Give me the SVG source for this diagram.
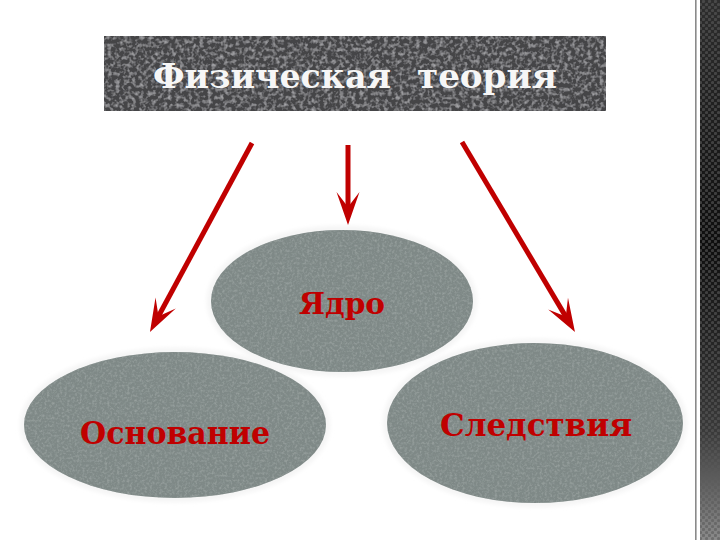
<svg xmlns="http://www.w3.org/2000/svg" width="720" height="540" viewBox="0 0 720 540">
<style>
.node-fill{fill:#7f8987;}
.glow{fill:#ffffff;stroke:#f4f4f4;stroke-width:6;}
.lbl{font-family:"DejaVu Serif Condensed","DejaVu Serif",serif;font-weight:bold;fill:#c00000;text-anchor:middle;}
.title{font-family:"DejaVu Serif Condensed","DejaVu Serif",serif;font-weight:bold;fill:#f6f6f6;text-anchor:start;font-size:34px;}
.conn{stroke:#c00000;stroke-width:5;fill:none;marker-end:url(#ah);}
</style>
<defs>
<marker id="ah" markerUnits="userSpaceOnUse" markerWidth="40" markerHeight="30" viewBox="-20 -15 40 30" refX="0" refY="0" orient="auto">
<path d="M15,0 L-18,-11.5 L-3,0 L-18,11.5 Z" fill="#c00000"/>
</marker>
<filter id="tex" x="0" y="0" width="100%" height="100%">
<feTurbulence type="fractalNoise" baseFrequency="0.4" numOctaves="3" seed="4" result="n"/>
<feColorMatrix in="n" type="matrix" values="0 0 0 0 0.32  0 0 0 0 0.36  0 0 0 0 0.35  0 0 0 -2.0 1.15" result="d"/>
<feComposite in="d" in2="SourceGraphic" operator="in" result="dc"/>
<feMerge><feMergeNode in="SourceGraphic"/><feMergeNode in="dc"/></feMerge>
</filter>
<filter id="tex2" x="0" y="0" width="100%" height="100%">
<feTurbulence type="fractalNoise" baseFrequency="0.25" numOctaves="3" seed="7" result="n"/>
<feColorMatrix in="n" type="matrix" values="0 0 0 0 0.45  0 0 0 0 0.45  0 0 0 0 0.47  0 0 0 -1.8 1.0" result="d"/>
<feComposite in="d" in2="SourceGraphic" operator="in" result="dc"/>
<feMerge><feMergeNode in="SourceGraphic"/><feMergeNode in="dc"/></feMerge>
</filter>
<filter id="blur" x="-10%" y="-10%" width="120%" height="120%">
<feGaussianBlur stdDeviation="2"/>
</filter>
<linearGradient id="strip" x1="0" y1="0" x2="0" y2="1">
<stop offset="0" stop-color="#2e2e2e"/>
<stop offset="0.45" stop-color="#0e0e0e"/>
<stop offset="0.8" stop-color="#3a3a3a"/>
<stop offset="1" stop-color="#8a8a8a"/>
</linearGradient>
<pattern id="dots" width="6" height="6" patternUnits="userSpaceOnUse">
<circle cx="1.5" cy="1.5" r="1.6" fill="#5a5a5a" fill-opacity="0.6"/>
<circle cx="4.5" cy="4.5" r="1.6" fill="#5a5a5a" fill-opacity="0.6"/>
</pattern>
</defs>
<rect x="0" y="0" width="720" height="540" fill="#ffffff"/>

<g id="edge-strip">
<rect x="695" y="0" width="1.6" height="540" fill="#8a8a8a"/>
<rect x="700" y="0" width="20" height="540" fill="url(#strip)"/>
<rect x="700" y="0" width="20" height="540" fill="url(#dots)"/>
</g>

<g id="title">
<rect x="104" y="36" width="502" height="75" fill="#454547" filter="url(#tex2)"/>
<text class="title" x="153" y="88" textLength="238" lengthAdjust="spacingAndGlyphs">Физическая</text>
<text class="title" x="417" y="88" textLength="140" lengthAdjust="spacingAndGlyphs">теория</text>
</g>

<g id="osnovanie">
<ellipse cx="175" cy="425" rx="152" ry="74" class="glow" filter="url(#blur)"/>
<ellipse cx="175" cy="425" rx="151" ry="73" class="node-fill" filter="url(#tex)"/>
<text class="lbl" x="175" y="444" font-size="32" textLength="190" lengthAdjust="spacingAndGlyphs">Основание</text>
</g>

<g id="sledstviya">
<ellipse cx="535" cy="423" rx="149" ry="81" class="glow" filter="url(#blur)"/>
<ellipse cx="535" cy="423" rx="148" ry="80" class="node-fill" filter="url(#tex)"/>
<text class="lbl" x="536" y="436" font-size="32" textLength="192" lengthAdjust="spacingAndGlyphs">Следствия</text>
</g>

<g id="yadro">
<ellipse cx="342" cy="301" rx="132" ry="72" class="glow" filter="url(#blur)"/>
<ellipse cx="342" cy="301" rx="131" ry="71" class="node-fill" filter="url(#tex)"/>
<text class="lbl" x="342" y="314" font-size="30" textLength="86" lengthAdjust="spacingAndGlyphs">Ядро</text>
</g>

<g id="connectors">
<line class="conn" x1="252" y1="143" x2="157.1" y2="318.8"/>
<line class="conn" x1="348" y1="145" x2="348" y2="210"/>
<line class="conn" x1="462" y1="142" x2="567.3" y2="319.1"/>
</g>
</svg>
